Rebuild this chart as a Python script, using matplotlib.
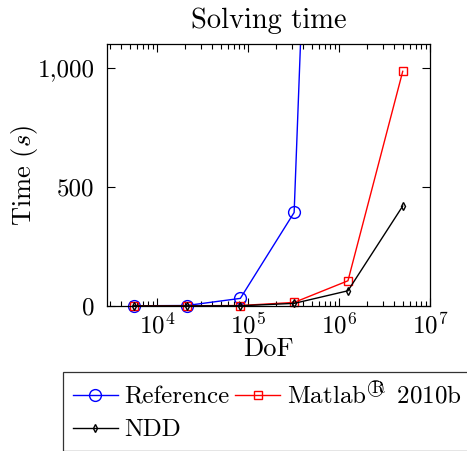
import matplotlib
matplotlib.use("Agg")
import matplotlib.pyplot as plt
from matplotlib.patches import Rectangle
from matplotlib.ticker import FuncFormatter, LogLocator, NullFormatter

plt.rcParams["font.family"] = ["cmr10", "DejaVu Serif"]
plt.rcParams["mathtext.fontset"] = "cm"
plt.rcParams["axes.formatter.use_mathtext"] = True

dof = [5.5e3, 2.1e4, 8.2e4, 3.2e5, 1.25e6, 5.0e6]
t_reference = [1, 2, 32, 393, 6400]
t_matlab = [1, 1, 2, 15, 106, 986]
t_ndd = [0.5, 0.5, 1, 11, 64, 420]

series = [
    ("Reference", dof[:len(t_reference)], t_reference, "blue", "o", 8.5),
    (r"Matlab$^{\bigcirc\!\!\!\!\!\mathrm{R}\,}$ 2010b", dof, t_matlab, "red", "s", 6),
    ("NDD", dof, t_ndd, "black", "d", 4),
]

fig = plt.figure(figsize=(4.67, 4.51), dpi=100)
ax = fig.add_axes([0.229, 0.3215, 0.692, 0.5805])

handles = []
for label, x, y, color, marker, ms in series:
    (ln,) = ax.plot(x, y, color=color, marker=marker, markersize=ms,
                    markerfacecolor="none", markeredgecolor=color,
                    markeredgewidth=1.0, linewidth=1.0, label=label)
    clip = Rectangle((-0.05, -0.05), 1.1, 1.05, transform=ax.transAxes,
                     facecolor="none", edgecolor="none")
    ln.set_clip_path(clip)
    handles.append(ln)

ax.set_xscale("log")
ax.set_xlim(2.8e3, 1e7)
ax.set_ylim(0, 1100)
ax.set_yticks([0, 500, 1000])
ax.yaxis.set_major_formatter(FuncFormatter(lambda v, p: f"{int(v):,}"))
ax.xaxis.set_major_locator(LogLocator(base=10, numticks=10))
ax.xaxis.set_minor_locator(LogLocator(base=10, subs=range(2, 10), numticks=20))
ax.xaxis.set_minor_formatter(NullFormatter())

ax.tick_params(which="both", direction="in", top=True, right=True,
               labelsize=18, width=0.8)
ax.tick_params(axis="y", pad=9)
ax.tick_params(axis="x", pad=5)
ax.tick_params(which="major", length=6)
ax.tick_params(which="minor", length=3.5)
for s in ax.spines.values():
    s.set_linewidth(0.9)

ax.set_title("Solving time", fontsize=20.5, pad=12)
ax.set_xlabel("DoF", fontsize=19, labelpad=-1)
ax.set_ylabel("Time ($s$)", fontsize=19, labelpad=-2)

# row-wise order: Reference, Matlab / NDD
order = [handles[0], handles[2], handles[1]]
leg = fig.legend(order, [h.get_label() for h in order],
                 loc="upper left", bbox_to_anchor=(0.135, 0.175), ncol=2,
                 fontsize=18, frameon=True, fancybox=False, edgecolor="black",
                 handlelength=1.8, handletextpad=0.25, columnspacing=0.25,
                 borderaxespad=0, borderpad=0.38, labelspacing=0.42)
leg.get_frame().set_linewidth(0.9)

fig.savefig("out.png", dpi=100)
